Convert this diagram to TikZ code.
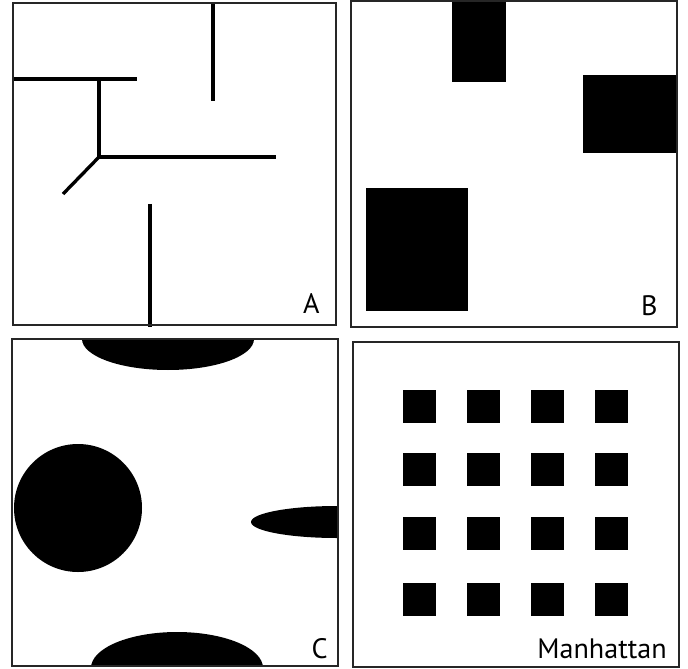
\documentclass[tikz,border=0pt]{standalone}
\usepackage{fontspec}
\setsansfont{PT Sans}

\begin{document}
\begin{tikzpicture}[x=0.02cm, y=-0.02cm,
    panel/.style={draw=black!85, line width=0.8pt},
    wall/.style={line width=1.9pt},
    block/.style={fill=black},
    tag/.style={font=\sffamily\fontsize{16}{18}\selectfont, inner sep=0pt}]
    \useasboundingbox (0,0) rectangle (688,668);

    % Panel A: walls
    \coordinate (J) at (99,157);
    \draw[wall] (13,79) -- (137,79);
    \draw[wall] (99,79) -- (J) -- (276,157);
    \draw[wall] (J) -- (63,194);
    \draw[wall] (213,3) -- (213,101);
    \draw[wall] (150,204) -- (150,327);
    \draw[panel] (13,3) rectangle (336,325);
    \node[tag, anchor=base east] (labA) at (320,313) {A};

    % Panel B: blocks
    \begin{scope}
        \clip (351,1) rectangle (677,327);
        \fill[block] (452,0) rectangle (506,82);
        \fill[block] (583,75) rectangle (680,153);
        \fill[block] (366,188) rectangle (468,311);
    \end{scope}
    \draw[panel] (351,1) rectangle (677,327);
    \node[tag, anchor=base east] (labB) at (658,315) {B};

    % Panel C: round obstacles
    \begin{scope}
        \clip (12,339) rectangle (338,666);
        \fill[block] (168,339) ellipse [x radius=86, y radius=31];
        \fill[block] (78,508) circle [radius=64];
        \fill[block] (337,522) ellipse [x radius=86, y radius=16];
        \fill[block] (177,668) ellipse [x radius=86, y radius=36];
    \end{scope}
    \draw[panel] (12,339) rectangle (338,666);
    \node[tag, anchor=base east] (labC) at (328,658) {C};

    % Panel D: Manhattan grid
    \foreach \y in {390,453,517,583}
        \foreach \x in {403,467,531,595}
            \fill[block] (\x,\y) rectangle ++(33,33);
    \draw[panel] (353,342) rectangle (679,667);
    \node[tag, anchor=base east] (labM) at (667,658) {Manhattan};
\end{tikzpicture}
\end{document}
